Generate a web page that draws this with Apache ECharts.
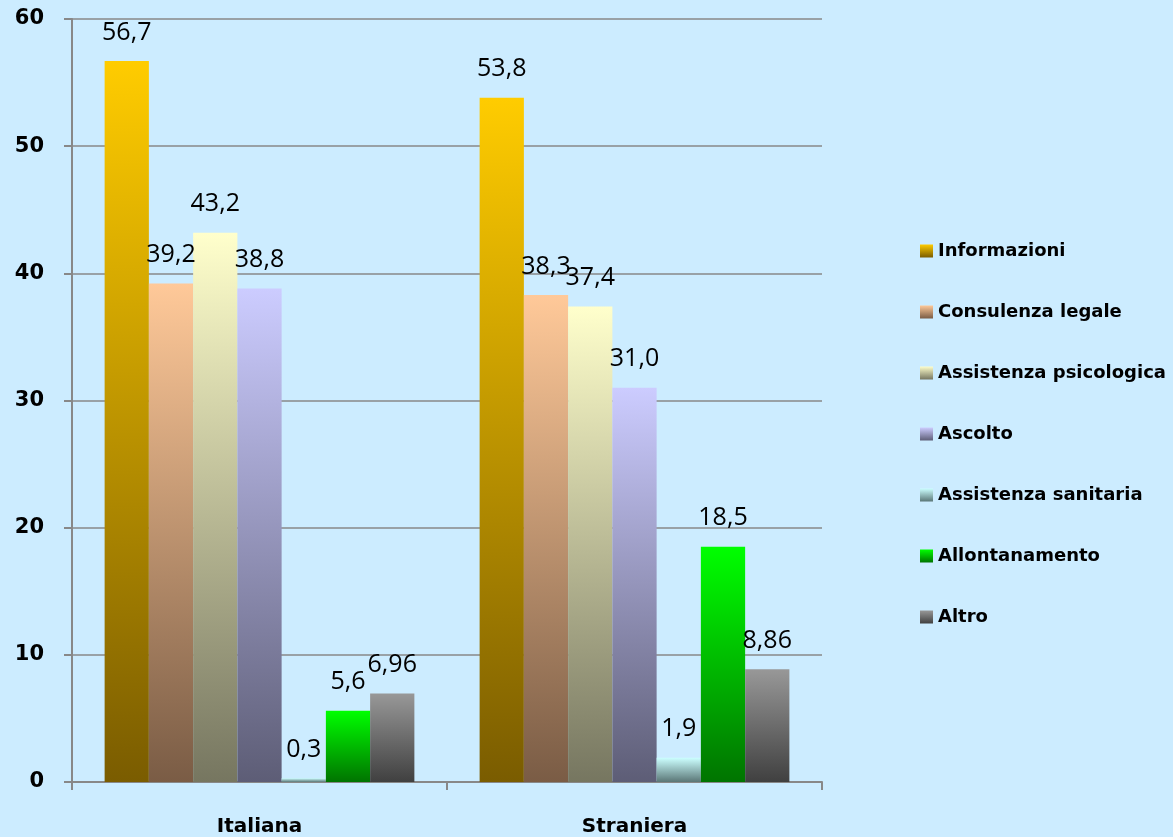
<!DOCTYPE html>
<html>
<head>
<meta charset="utf-8">
<script src="https://cdn.jsdelivr.net/npm/echarts@6/dist/echarts.min.js"></script>
<style>
html,body{margin:0;padding:0;background:#CCECFF;}
#chart{width:1173px;height:837px;}
</style>
</head>
<body>
<div id="chart"></div>
<script>
const categories = ['Italiana', 'Straniera'];
const seriesNames = ['Informazioni', 'Consulenza legale', 'Assistenza psicologica', 'Ascolto', 'Assistenza sanitaria', 'Allontanamento', 'Altro'];
const informazioni = [56.7, 53.8];
const consulenzaLegale = [39.2, 38.3];
const assistenzaPsicologica = [43.2, 37.4];
const ascolto = [38.8, 31.0];
const assistenzaSanitaria = [0.3, 1.9];
const allontanamento = [5.6, 18.5];
const altro = [6.96, 8.86];
const labelTexts = [
  ['56,7', '53,8'],
  ['39,2', '38,3'],
  ['43,2', '37,4'],
  ['38,8', '31,0'],
  ['0,3', '1,9'],
  ['5,6', '18,5'],
  ['6,96', '8,86']
];
const yTicks = [0, 10, 20, 30, 40, 50, 60];

const values = [informazioni, consulenzaLegale, assistenzaPsicologica, ascolto, assistenzaSanitaria, allontanamento, altro];
const gradients = [
  ['#FFCC00', '#7A5C00'],
  ['#FFC999', '#7A5C45'],
  ['#FFFFCC', '#767660'],
  ['#CCCCFF', '#5D5D76'],
  ['#CCFFFF', '#5A7676'],
  ['#00FF00', '#007400'],
  ['#989898', '#404040']
];

const boldFont = 'DejaVu Sans';

const chart = echarts.init(document.getElementById('chart'));
const series = seriesNames.map((name, i) => ({
  name: name,
  type: 'bar',
  barGap: '0%',
  barCategoryGap: '17.4%',
  data: values[i],
  itemStyle: {
    color: new echarts.graphic.LinearGradient(0, 0, 0, 1, [
      {offset: 0, color: gradients[i][0]},
      {offset: 1, color: gradients[i][1]}
    ])
  },
  label: {
    show: true,
    position: 'top',
    distance: 16,
    fontFamily: 'Open Sans',
    fontSize: 25,
    color: '#000',
    formatter: p => labelTexts[i][p.dataIndex]
  }
}));

chart.setOption({
  backgroundColor: '#CCECFF',
  animation: false,
  grid: {left: 72, right: 351, top: 19, bottom: 51, containLabel: false},
  legend: {
    orient: 'vertical',
    left: 915,
    top: 237,
    itemWidth: 13,
    itemHeight: 13,
    itemGap: 43,
    icon: 'rect',
    textStyle: {fontFamily: boldFont, fontWeight: 'bold', fontSize: 18, color: '#000'},
    data: seriesNames
  },
  xAxis: {
    type: 'category',
    data: categories,
    axisLine: {lineStyle: {color: '#888', width: 2}},
    axisTick: {show: true, length: 8, lineStyle: {color: '#888', width: 2}},
    axisLabel: {fontFamily: boldFont, fontWeight: 'bold', fontSize: 20, color: '#000', margin: 35}
  },
  yAxis: {
    type: 'value',
    min: 0,
    max: 60,
    interval: 10,
    axisLine: {show: true, lineStyle: {color: '#888', width: 2}},
    axisTick: {show: true, length: 8, lineStyle: {color: '#888', width: 2}},
    splitLine: {lineStyle: {color: '#888', width: 1.5}},
    axisLabel: {fontFamily: boldFont, fontWeight: 'bold', fontSize: 21, color: '#000', margin: 28,
      formatter: v => yTicks.includes(v) ? String(v) : ''}
  },
  series: series
});
</script>
</body>
</html>
